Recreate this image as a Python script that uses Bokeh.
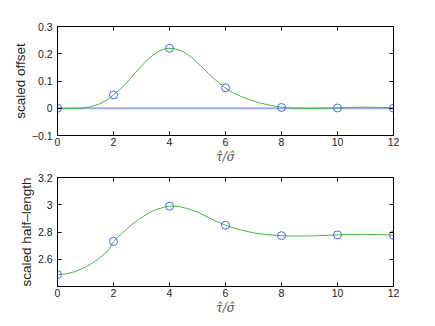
from bokeh.plotting import figure
from bokeh.layouts import column
from bokeh.models import LinearAxis, FixedTicker, Range1d, CustomLabelingPolicy
from bokeh.embed import file_html
from bokeh.resources import INLINE

# sample positions (markers)
x_pts = [0, 2, 4, 6, 8, 10, 12]
offset_pts = [0.0, 0.049, 0.220, 0.075, 0.003, 0.001, 0.0]
halflen_pts = [2.487, 2.731, 2.990, 2.850, 2.773, 2.779, 2.777]

# smooth curves
offset_curve_x = [0, 0.3, 0.6, 0.9, 1.2, 1.5, 1.8, 2.0, 2.2, 2.4, 2.6, 2.8, 3.0, 3.2, 3.4,
                  3.6, 3.8, 4.0, 4.2, 4.4, 4.6, 4.8, 5.0, 5.2, 5.4, 5.6, 5.8, 6.0, 6.3,
                  6.6, 6.9, 7.2, 7.5, 7.8, 8.0, 8.5, 9.0, 9.5, 10.0, 10.5, 11.0, 11.5, 12.0]
offset_curve_y = [0.0, -0.001, -0.001, 0.001, 0.006, 0.016, 0.032, 0.049, 0.066, 0.086,
                  0.109, 0.132, 0.155, 0.176, 0.194, 0.208, 0.217, 0.220, 0.218, 0.212,
                  0.201, 0.186, 0.167, 0.147, 0.127, 0.108, 0.090, 0.074, 0.055, 0.041,
                  0.030, 0.020, 0.013, 0.007, 0.004, 0.000, -0.001, 0.000, 0.001, 0.003,
                  0.004, 0.003, 0.0]
halflen_curve_x = [0, 0.3, 0.6, 0.9, 1.2, 1.5, 1.8, 2.0, 2.3, 2.6, 2.9, 3.2, 3.5, 3.8,
                   4.0, 4.3, 4.6, 5.0, 5.3, 5.6, 6.0, 6.3, 6.6, 7.0, 7.5, 8.0, 8.5, 9.0,
                   9.5, 10.0, 10.5, 11.0, 11.5, 12.0]
halflen_curve_y = [2.487, 2.492, 2.508, 2.532, 2.566, 2.608, 2.660, 2.731, 2.790, 2.845,
                   2.893, 2.933, 2.963, 2.982, 2.990, 2.989, 2.974, 2.946, 2.916, 2.885,
                   2.850, 2.829, 2.812, 2.794, 2.780, 2.773, 2.770, 2.771, 2.775, 2.779,
                   2.782, 2.783, 2.781, 2.777]
zero_x = [0, 12]
zero_y = [0, 0]

x_ticks = [0, 2, 4, 6, 8, 10, 12]
offset_ticks = [-0.1, 0, 0.1, 0.2, 0.3]
offset_labels = {-0.1: "\u22120.1", 0: "0", 0.1: "0.1", 0.2: "0.2", 0.3: "0.3"}
halflen_ticks = [2.6, 2.8, 3.0, 3.2]
halflen_labels = {2.6: "2.6", 2.8: "2.8", 3.0: "3", 3.2: "3.2"}

FONT = "Liberation Sans"
GREEN = "#3cbc3c"
BLUE = "#4a62ff"
LIGHTBLUE = "#a0acf2"

NOLABELS = ("try { for (let i = 0; i < indices.size; i++) { indices.unset(i) } } "
            "catch (e) {} return indices")


def style(p, yticks, ylabels, ylabel):
    p.xaxis.ticker = FixedTicker(ticks=x_ticks)
    p.yaxis.ticker = FixedTicker(ticks=yticks)
    p.yaxis.major_label_overrides = ylabels
    p.xgrid.visible = False
    p.ygrid.visible = False
    p.outline_line_color = "black"
    p.outline_line_width = 1
    for ax in p.xaxis + p.yaxis:
        ax.major_tick_in = 4
        ax.major_tick_out = 0
        ax.minor_tick_line_color = None
        ax.axis_line_color = "black"
        ax.major_tick_line_color = "black"
        ax.major_label_text_font = FONT
        ax.major_label_text_font_size = "10.5px"
        ax.major_label_text_color = "#222222"
    p.yaxis.major_label_standoff = 5
    p.xaxis.major_label_standoff = 2
    p.yaxis.axis_label = ylabel
    p.yaxis.axis_label_text_font = FONT
    p.yaxis.axis_label_text_font_size = "13.5px"
    p.yaxis.axis_label_text_font_style = "normal"
    p.yaxis.axis_label_text_color = "#222222"
    p.yaxis.axis_label_standoff = 1
    p.xaxis.axis_label = "\u03c4\u0302/\u03c3\u0302"
    p.xaxis.axis_label_text_font = "DejaVu Serif"
    p.xaxis.axis_label_text_font_style = "italic"
    p.xaxis.axis_label_text_font_size = "12px"
    p.xaxis.axis_label_text_color = "#555555"
    p.xaxis.axis_label_standoff = 1
    # box ticks on top and right (no labels)
    top = LinearAxis(ticker=FixedTicker(ticks=x_ticks), major_tick_in=4, major_tick_out=0,
                     minor_tick_line_color=None, major_label_standoff=0,
                     major_label_policy=CustomLabelingPolicy(code=NOLABELS))
    right = LinearAxis(ticker=FixedTicker(ticks=yticks), major_tick_in=4, major_tick_out=0,
                       minor_tick_line_color=None, major_label_standoff=0,
                       major_label_policy=CustomLabelingPolicy(code=NOLABELS))
    p.add_layout(top, "above")
    p.add_layout(right, "right")


p1 = figure(width=418, height=166, output_backend="svg", toolbar_location=None,
            x_range=Range1d(0, 12), y_range=Range1d(-0.1, 0.3),
            min_border_left=57, min_border_right=20, min_border_top=26, min_border_bottom=31)
style(p1, offset_ticks, offset_labels, "scaled offset")
p1.line(zero_x, zero_y, line_color=LIGHTBLUE, line_width=2)
p1.line(offset_curve_x, offset_curve_y, line_color=GREEN, line_width=1)
p1.scatter(x_pts, offset_pts, marker="circle", size=8, fill_color=None,
           line_color=BLUE, line_width=1)

p2 = figure(width=418, height=156, output_backend="svg", toolbar_location=None,
            x_range=Range1d(0, 12), y_range=Range1d(2.4, 3.2),
            min_border_left=57, min_border_right=20, min_border_top=4, min_border_bottom=36)
style(p2, halflen_ticks, halflen_labels, "scaled half\u2013length")
p2.line(halflen_curve_x, halflen_curve_y, line_color=GREEN, line_width=1)
p2.scatter(x_pts, halflen_pts, marker="circle", size=8, fill_color=None,
           line_color=BLUE, line_width=1)

layout = column(p1, p2, spacing=0)
open("out.html", "w").write(file_html(layout, INLINE))
